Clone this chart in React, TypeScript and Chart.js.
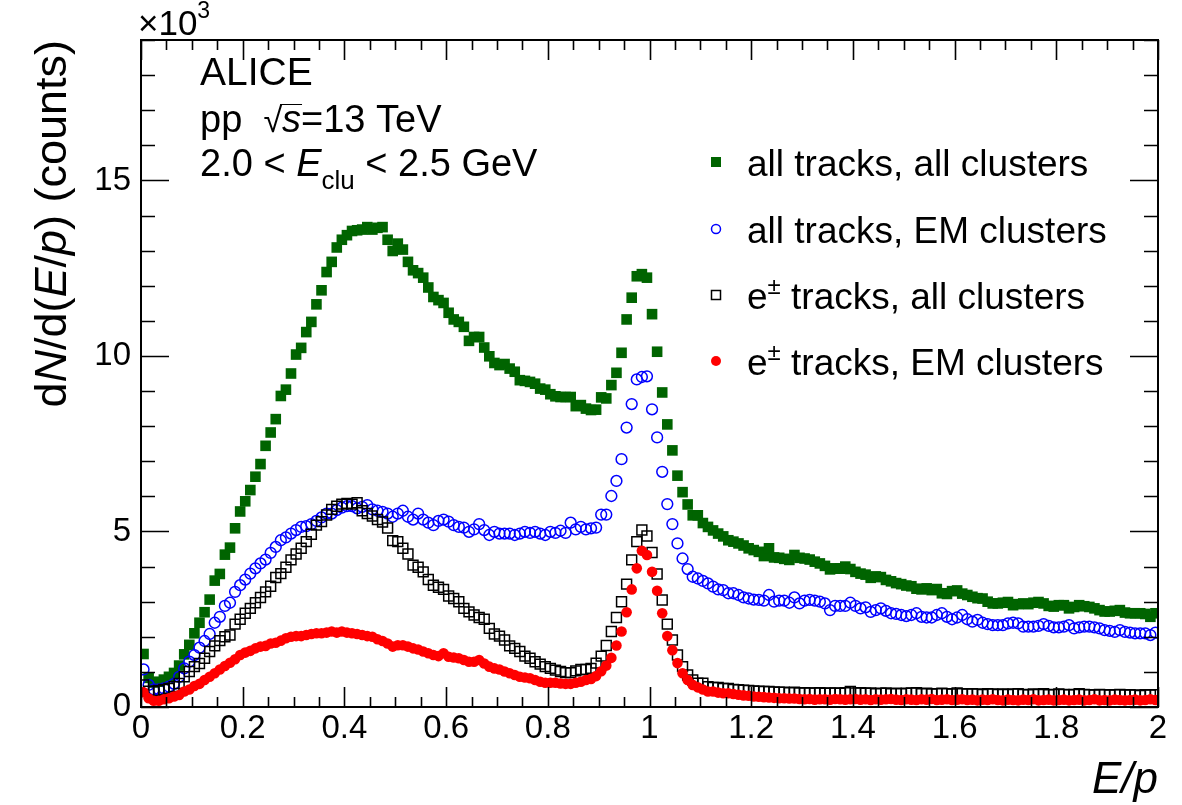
import React, { useEffect, useRef } from "react";
import { Chart, registerables } from "chart.js";

Chart.register(...registerables);

// ---------- axes ----------
const X_MIN = 0;
const X_MAX = 2;
const Y_MIN = 0;
const Y_MAX = 19;
const BIN_WIDTH = 0.01;
const X_TICKS = [0, 0.2, 0.4, 0.6, 0.8, 1, 1.2, 1.4, 1.6, 1.8, 2];
const X_TICK_LABELS = ["0", "0.2", "0.4", "0.6", "0.8", "1", "1.2", "1.4", "1.6", "1.8", "2"];
const X_MINOR_STEP = 0.05;
const Y_TICKS = [0, 5, 10, 15];
const Y_TICK_LABELS = ["0", "5", "10", "15"];
const Y_MINOR_STEP = 1;

// ---------- data (counts x 10^3, bins of 0.01 in E/p) ----------
const ALL_TRACKS_ALL_CLUSTERS = [
  1.51, 0.83, 0.70, 0.72, 0.78, 0.86, 0.97, 1.18, 1.50, 1.77,
  2.10, 2.40, 2.70, 3.06, 3.60, 3.79, 4.34, 4.54, 5.09, 5.57,
  5.86, 6.18, 6.56, 6.92, 7.44, 7.82, 8.20, 8.86, 9.04, 9.50,
  10.04, 10.23, 10.68, 10.97, 11.47, 11.87, 12.39, 12.68, 13.09, 13.31,
  13.44, 13.56, 13.58, 13.60, 13.67, 13.60, 13.65, 13.67, 13.31, 12.99,
  13.20, 13.03, 12.68, 12.44, 12.36, 12.23, 11.95, 11.68, 11.59, 11.51,
  11.23, 11.04, 10.97, 10.83, 10.43, 10.54, 10.54, 10.24, 9.99, 9.80,
  9.74, 9.77, 9.64, 9.55, 9.31, 9.29, 9.26, 9.21, 9.07, 9.04,
  8.91, 8.85, 8.83, 8.83, 8.83, 8.57, 8.60, 8.50, 8.46, 8.47,
  8.82, 8.79, 9.17, 9.52, 10.09, 11.04, 11.66, 12.27, 12.33, 12.23,
  11.19, 10.12, 8.96, 8.05, 7.31, 6.59, 6.12, 5.77, 5.46, 5.46,
  5.24, 5.13, 5.03, 4.94, 4.86, 4.75, 4.71, 4.66, 4.60, 4.52,
  4.47, 4.42, 4.30, 4.52, 4.26, 4.25, 4.22, 4.19, 4.33, 4.25,
  4.23, 4.20, 4.14, 4.09, 4.02, 3.92, 3.95, 3.94, 4.00, 3.93,
  3.85, 3.80, 3.77, 3.68, 3.72, 3.70, 3.62, 3.58, 3.53, 3.50,
  3.46, 3.44, 3.37, 3.35, 3.38, 3.33, 3.36, 3.24, 3.22, 3.30,
  3.32, 3.23, 3.19, 3.14, 3.10, 3.09, 3.00, 2.95, 2.95, 2.97,
  2.99, 2.90, 2.93, 2.95, 2.93, 2.97, 2.99, 2.95, 2.88, 2.86,
  2.90, 2.90, 2.81, 2.85, 2.90, 2.87, 2.85, 2.81, 2.76, 2.72,
  2.72, 2.74, 2.76, 2.69, 2.67, 2.67, 2.67, 2.65, 2.57, 2.67,
];

const ALL_TRACKS_EM_CLUSTERS = [
  1.07, 0.63, 0.50, 0.50, 0.53, 0.58, 0.66, 0.86, 1.10, 1.29,
  1.48, 1.69, 1.88, 2.08, 2.40, 2.57, 2.88, 2.97, 3.28, 3.47,
  3.63, 3.80, 3.95, 4.09, 4.20, 4.39, 4.56, 4.75, 4.83, 4.94,
  5.04, 5.13, 5.15, 5.21, 5.30, 5.40, 5.51, 5.51, 5.61, 5.68,
  5.72, 5.72, 5.66, 5.70, 5.75, 5.63, 5.59, 5.56, 5.51, 5.42,
  5.51, 5.59, 5.42, 5.34, 5.51, 5.34, 5.25, 5.18, 5.30, 5.34,
  5.28, 5.18, 5.13, 5.11, 4.99, 5.06, 5.21, 5.04, 4.90, 4.99,
  4.94, 4.94, 4.94, 4.90, 4.94, 4.99, 4.96, 4.99, 4.94, 4.90,
  4.99, 4.96, 5.02, 4.96, 5.25, 5.06, 5.13, 5.06, 5.09, 5.11,
  5.48, 5.48, 6.01, 6.44, 7.06, 7.96, 8.63, 9.33, 9.40, 9.42,
  8.48, 7.68, 6.70, 5.78, 5.21, 4.66, 4.23, 3.93, 3.71, 3.66,
  3.59, 3.52, 3.43, 3.35, 3.33, 3.24, 3.24, 3.19, 3.12, 3.09,
  3.06, 3.05, 3.03, 3.19, 3.00, 3.03, 3.03, 2.97, 3.12, 2.95,
  3.03, 3.05, 3.03, 3.00, 2.95, 2.76, 2.88, 2.88, 2.88, 2.97,
  2.88, 2.81, 2.84, 2.71, 2.76, 2.81, 2.74, 2.67, 2.65, 2.62,
  2.59, 2.62, 2.67, 2.57, 2.55, 2.55, 2.62, 2.67, 2.57, 2.50,
  2.55, 2.62, 2.50, 2.43, 2.48, 2.40, 2.36, 2.33, 2.33, 2.33,
  2.38, 2.40, 2.38, 2.29, 2.29, 2.29, 2.31, 2.36, 2.31, 2.27,
  2.27, 2.29, 2.33, 2.24, 2.27, 2.29, 2.29, 2.27, 2.24, 2.19,
  2.17, 2.14, 2.19, 2.14, 2.12, 2.10, 2.10, 2.10, 2.05, 2.12,
];

const E_TRACKS_ALL_CLUSTERS = [
  0.63, 0.45, 0.44, 0.47, 0.50, 0.53, 0.58, 0.67, 0.86, 1.01,
  1.15, 1.24, 1.39, 1.58, 1.74, 1.89, 2.00, 2.05, 2.36, 2.50,
  2.67, 2.81, 2.97, 3.12, 3.28, 3.44, 3.69, 3.80, 3.98, 4.19,
  4.36, 4.52, 4.71, 4.92, 5.18, 5.28, 5.47, 5.63, 5.72, 5.78,
  5.80, 5.78, 5.82, 5.59, 5.51, 5.44, 5.34, 5.27, 5.10, 4.74,
  4.71, 4.52, 4.36, 4.04, 3.98, 3.85, 3.63, 3.47, 3.41, 3.35,
  3.16, 3.09, 3.00, 2.81, 2.71, 2.62, 2.55, 2.50, 2.24, 2.08,
  2.02, 1.91, 1.74, 1.67, 1.58, 1.45, 1.39, 1.29, 1.22, 1.15,
  1.10, 1.05, 1.01, 0.98, 0.98, 1.03, 1.07, 1.07, 1.10, 1.25,
  1.45, 1.75, 2.15, 2.55, 3.00, 3.50, 4.19, 4.71, 5.04, 4.87,
  4.40, 3.79, 3.05, 2.36, 1.91, 1.48, 1.15, 0.91, 0.77, 0.68,
  0.68, 0.58, 0.56, 0.56, 0.53, 0.53, 0.50, 0.49, 0.48, 0.47,
  0.46, 0.45, 0.44, 0.44, 0.43, 0.42, 0.42, 0.41, 0.42, 0.40,
  0.41, 0.40, 0.40, 0.41, 0.39, 0.40, 0.40, 0.39, 0.41, 0.44,
  0.40, 0.41, 0.39, 0.40, 0.38, 0.39, 0.40, 0.38, 0.39, 0.38,
  0.39, 0.40, 0.41, 0.38, 0.39, 0.37, 0.38, 0.39, 0.38, 0.37,
  0.40, 0.38, 0.37, 0.38, 0.37, 0.36, 0.38, 0.37, 0.36, 0.37,
  0.36, 0.37, 0.38, 0.36, 0.35, 0.37, 0.36, 0.38, 0.35, 0.36,
  0.37, 0.36, 0.35, 0.36, 0.38, 0.36, 0.35, 0.34, 0.36, 0.35,
  0.34, 0.35, 0.36, 0.34, 0.35, 0.34, 0.33, 0.35, 0.34, 0.35,
];

const E_TRACKS_EM_CLUSTERS = [
  0.42, 0.25, 0.18, 0.18, 0.22, 0.25, 0.30, 0.34, 0.44, 0.50,
  0.60, 0.66, 0.77, 0.86, 0.96, 1.07, 1.17, 1.26, 1.36, 1.48,
  1.55, 1.60, 1.67, 1.72, 1.74, 1.81, 1.83, 1.89, 1.96, 2.00,
  2.02, 2.02, 2.05, 2.08, 2.10, 2.10, 2.12, 2.15, 2.12, 2.15,
  2.12, 2.10, 2.08, 2.05, 2.02, 2.00, 1.93, 1.88, 1.81, 1.72,
  1.76, 1.76, 1.72, 1.67, 1.64, 1.58, 1.53, 1.48, 1.45, 1.53,
  1.43, 1.41, 1.39, 1.34, 1.29, 1.29, 1.34, 1.24, 1.15, 1.10,
  1.07, 1.01, 0.96, 0.91, 0.86, 0.84, 0.82, 0.77, 0.72, 0.69,
  0.69, 0.69, 0.67, 0.66, 0.66, 0.69, 0.72, 0.77, 0.80, 0.88,
  1.02, 1.18, 1.40, 1.75, 2.15, 2.70, 3.35, 3.95, 4.45, 4.33,
  3.85, 3.31, 2.67, 2.02, 1.62, 1.25, 0.96, 0.77, 0.63, 0.56,
  0.50, 0.44, 0.44, 0.41, 0.39, 0.39, 0.37, 0.35, 0.33, 0.32,
  0.30, 0.29, 0.28, 0.27, 0.26, 0.25, 0.25, 0.24, 0.24, 0.23,
  0.22, 0.23, 0.21, 0.22, 0.22, 0.21, 0.23, 0.22, 0.21, 0.22,
  0.23, 0.21, 0.22, 0.20, 0.22, 0.21, 0.22, 0.23, 0.21, 0.20,
  0.22, 0.21, 0.20, 0.22, 0.21, 0.23, 0.20, 0.21, 0.22, 0.20,
  0.21, 0.22, 0.20, 0.21, 0.19, 0.21, 0.20, 0.22, 0.20, 0.19,
  0.21, 0.20, 0.19, 0.21, 0.20, 0.22, 0.19, 0.20, 0.21, 0.19,
  0.20, 0.21, 0.19, 0.20, 0.21, 0.19, 0.20, 0.22, 0.19, 0.20,
  0.19, 0.21, 0.20, 0.19, 0.20, 0.21, 0.19, 0.20, 0.22, 0.20,
];

const SERIES_LABELS = [
  { pre: "", sup: "", text: "all tracks, all clusters" },
  { pre: "", sup: "", text: "all tracks, EM clusters" },
  { pre: "e", sup: "\u00b1", text: " tracks, all clusters" },
  { pre: "e", sup: "\u00b1", text: " tracks, EM clusters" },
];

const GREEN = "#006400";
const BLUE = "#0000ff";
const BLACK = "#000000";
const RED = "#ff0000";

const FONT = '"Liberation Sans", Arial, Helvetica, sans-serif';

type Seg = { t: string; italic?: boolean; size?: number; dy?: number };

function drawRich(
  ctx: CanvasRenderingContext2D,
  x: number,
  y: number,
  segs: Seg[],
  base: number,
  align: "left" | "right"
) {
  const widths: number[] = [];
  let total = 0;
  for (const s of segs) {
    ctx.font = `${s.italic ? "italic " : ""}${s.size ?? base}px ${FONT}`;
    const w = ctx.measureText(s.t).width;
    widths.push(w);
    total += w;
  }
  const spans: { x0: number; x1: number }[] = [];
  ctx.save();
  ctx.translate(x, y);
  ctx.textAlign = "left";
  ctx.textBaseline = "alphabetic";
  let cx = align === "right" ? -total : 0;
  segs.forEach((s, i) => {
    ctx.font = `${s.italic ? "italic " : ""}${s.size ?? base}px ${FONT}`;
    ctx.fillText(s.t, cx, s.dy ?? 0);
    spans.push({ x0: x + cx, x1: x + cx + widths[i] });
    cx += widths[i];
  });
  ctx.restore();
  return spans;
}

function drawMarker(ctx: CanvasRenderingContext2D, kind: number, x: number, y: number) {
  ctx.save();
  if (kind === 0) {
    ctx.fillStyle = GREEN;
    ctx.fillRect(x - 5, y - 5, 10, 10);
  } else if (kind === 1) {
    ctx.strokeStyle = BLUE;
    ctx.lineWidth = 1.5;
    ctx.beginPath();
    ctx.arc(x, y, 4.5, 0, Math.PI * 2);
    ctx.stroke();
  } else if (kind === 2) {
    ctx.strokeStyle = BLACK;
    ctx.lineWidth = 1.5;
    ctx.strokeRect(x - 4.5, y - 4.5, 9, 9);
  } else {
    ctx.fillStyle = RED;
    ctx.beginPath();
    ctx.arc(x, y, 5, 0, Math.PI * 2);
    ctx.fill();
  }
  ctx.restore();
}

const rootFrame = {
  id: "rootFrame",
  afterDraw(chart: any) {
    const ctx: CanvasRenderingContext2D = chart.ctx;
    const { left, right, top, bottom } = chart.chartArea;
    const xs = chart.scales.x;
    const ys = chart.scales.y;
    ctx.save();
    // frame
    ctx.strokeStyle = "#000";
    ctx.lineWidth = 2;
    ctx.strokeRect(left, top, right - left, bottom - top);
    // ticks (inward, all four sides)
    ctx.lineWidth = 1.6;
    ctx.beginPath();
    const nx = Math.round((X_MAX - X_MIN) / X_MINOR_STEP);
    for (let k = 0; k <= nx; k++) {
      const v = X_MIN + k * X_MINOR_STEP;
      const px = Math.round(xs.getPixelForValue(v)) + 0.5;
      const major = X_TICKS.some((t) => Math.abs(t - v) < 1e-9);
      const len = major ? 20 : 10;
      ctx.moveTo(px, bottom);
      ctx.lineTo(px, bottom - len);
      ctx.moveTo(px, top);
      ctx.lineTo(px, top + len);
    }
    const ny = Math.round((Y_MAX - Y_MIN) / Y_MINOR_STEP);
    for (let k = 0; k <= ny; k++) {
      const v = Y_MIN + k * Y_MINOR_STEP;
      const py = Math.round(ys.getPixelForValue(v)) + 0.5;
      const major = Y_TICKS.some((t) => Math.abs(t - v) < 1e-9);
      const len = major ? 28 : 14;
      ctx.moveTo(left, py);
      ctx.lineTo(left + len, py);
      ctx.moveTo(right, py);
      ctx.lineTo(right - len, py);
    }
    ctx.stroke();

    ctx.fillStyle = "#000";
    // x10^3 exponent
    drawRich(ctx, 138, 35, [{ t: "\u00d710" }, { t: "3", size: 23, dy: -17 }], 35, "left");

    // annotations
    drawRich(ctx, 200, 85, [{ t: "ALICE" }], 39, "left");
    const sp = drawRich(
      ctx,
      200,
      132,
      [{ t: "pp  " }, { t: "\u221a", size: 34 }, { t: "s", italic: true }, { t: "=13 TeV" }],
      38,
      "left"
    );
    ctx.lineWidth = 1;
    ctx.beginPath();
    ctx.moveTo(sp[1].x1 - 2, 104.5);
    ctx.lineTo(sp[2].x1 + 1, 104.5);
    ctx.stroke();
    drawRich(
      ctx,
      200,
      176,
      [
        { t: "2.0 < " },
        { t: "E", italic: true },
        { t: "clu", size: 26, dy: 13 },
        { t: " < 2.5 GeV" },
      ],
      38,
      "left"
    );

    // legend
    const rowY = [162, 229, 295, 361];
    SERIES_LABELS.forEach((lab, i) => {
      drawMarker(ctx, i, 716, rowY[i]);
      const segs: Seg[] = [];
      if (lab.pre) segs.push({ t: lab.pre });
      if (lab.sup) segs.push({ t: lab.sup, size: 24, dy: -15 });
      segs.push({ t: lab.text });
      drawRich(ctx, 747, rowY[i] + 14, segs, 37, "left");
    });

    // axis titles
    drawRich(ctx, right, 793, [{ t: "E/p", italic: true }], 44, "right");
    ctx.save();
    ctx.translate(66, top);
    ctx.rotate(-Math.PI / 2);
    drawRich(
      ctx,
      0,
      0,
      [
        { t: "d" },
        { t: "N", italic: true },
        { t: "/d(" },
        { t: "E", italic: true },
        { t: "/" },
        { t: "p", italic: true },
        { t: ") (counts)" },
      ],
      45,
      "right"
    );
    ctx.restore();
    ctx.restore();
  },
};

export default function App() {
  const canvasRef = useRef<HTMLCanvasElement | null>(null);

  useEffect(() => {
    document.body.style.margin = "0";
    const canvas = canvasRef.current;
    if (!canvas) return;
    const centres = ALL_TRACKS_ALL_CLUSTERS.map((_, i) => +(BIN_WIDTH * (i + 0.5)).toFixed(3));
    const toPts = (vals: number[]) => vals.map((v, i) => ({ x: centres[i], y: v }));

    const tickFont = { family: FONT, size: 33, lineHeight: 1 };

    const chart = new Chart(canvas, {
      type: "scatter",
      data: {
        datasets: [
          {
            label: "e\u00b1 tracks, EM clusters",
            data: toPts(E_TRACKS_EM_CLUSTERS),
            pointStyle: "circle",
            pointRadius: 5.3,
            pointBackgroundColor: RED,
            pointBorderColor: RED,
            pointBorderWidth: 0,
            order: 1,
          },
          {
            label: "e\u00b1 tracks, all clusters",
            data: toPts(E_TRACKS_ALL_CLUSTERS),
            pointStyle: "rect",
            pointRadius: 7,
            pointBackgroundColor: "rgba(0,0,0,0)",
            pointBorderColor: BLACK,
            pointBorderWidth: 1.5,
            order: 2,
          },
          {
            label: "all tracks, EM clusters",
            data: toPts(ALL_TRACKS_EM_CLUSTERS),
            pointStyle: "circle",
            pointRadius: 5.4,
            pointBackgroundColor: "rgba(0,0,0,0)",
            pointBorderColor: BLUE,
            pointBorderWidth: 1.5,
            order: 3,
          },
          {
            label: "all tracks, all clusters",
            data: toPts(ALL_TRACKS_ALL_CLUSTERS),
            pointStyle: "rect",
            pointRadius: 7.5,
            pointBackgroundColor: GREEN,
            pointBorderColor: GREEN,
            pointBorderWidth: 0,
            order: 4,
          },
        ],
      },
      options: {
        animation: false,
        responsive: false,
        events: [],
        layout: { padding: { left: 0, right: 24, top: 40, bottom: 0 } },
        plugins: {
          legend: { display: false },
          tooltip: { enabled: false },
        },
        scales: {
          x: {
            type: "linear",
            min: X_MIN,
            max: X_MAX,
            afterBuildTicks: (s: any) => {
              s.ticks = X_TICKS.map((v) => ({ value: v }));
            },
            afterFit: (s: any) => {
              s.height = 98;
            },
            ticks: {
              callback: (_v: any, i: number) => X_TICK_LABELS[i],
              font: tickFont,
              color: "#000",
              padding: 5,
              maxRotation: 0,
              autoSkip: false,
            },
            grid: { display: false, drawTicks: false },
            border: { display: false },
          },
          y: {
            type: "linear",
            min: Y_MIN,
            max: Y_MAX,
            afterBuildTicks: (s: any) => {
              s.ticks = Y_TICKS.map((v) => ({ value: v }));
            },
            afterFit: (s: any) => {
              s.width = 141;
            },
            ticks: {
              callback: (_v: any, i: number) => Y_TICK_LABELS[i],
              font: tickFont,
              color: "#000",
              padding: 10,
              autoSkip: false,
            },
            grid: { display: false, drawTicks: false },
            border: { display: false },
          },
        },
      },
      plugins: [rootFrame],
    });
    return () => chart.destroy();
  }, []);

  return (
    <div style={{ width: 1182, height: 805, background: "#fff" }}>
      <canvas ref={canvasRef} width={1182} height={805} style={{ display: "block" }} />
    </div>
  );
}
